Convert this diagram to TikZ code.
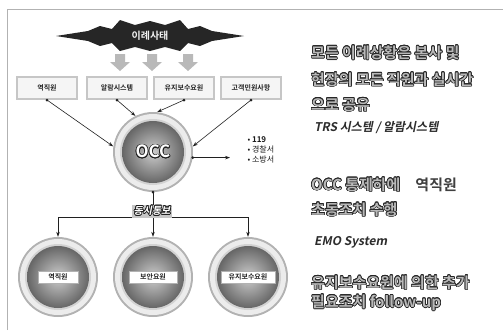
\documentclass[tikz,border=0pt]{standalone}
\usepackage{fontspec}
\setmainfont{Noto Sans CJK KR}[
	BoldFont={Noto Sans CJK KR Bold},
	ItalicFont={Noto Sans CJK KR}, ItalicFeatures={FakeSlant=0.2},
	BoldItalicFont={Noto Sans CJK KR Bold}, BoldItalicFeatures={FakeSlant=0.2}]
\usepackage{contour}
\contourlength{0.7pt}
\usetikzlibrary{arrows.meta}

\tikzset{
	sitbox/.style={draw=gray!45, line width=2pt, fill=gray!8, minimum width=60pt, minimum height=22pt, inner sep=0pt, font=\bfseries\fontsize{7}{8}\selectfont, text=gray!30!black},
	tag/.style={draw=gray!60, fill=white, minimum height=12pt, inner sep=2pt, font=\bfseries\fontsize{7}{8}\selectfont, text=gray!30!black},
	link/.style={-{Stealth[length=5pt,width=3.5pt]}, gray!25!black, line width=0.6pt},
	spot/.style={circle, minimum size=80pt, inner sep=0pt},
	headline/.style={anchor=west, inner sep=0pt, font=\bfseries\fontsize{15}{17}\selectfont, text=gray!55},
	subline/.style={anchor=west, inner sep=0pt, font=\bfseries\itshape\fontsize{12}{14}\selectfont, text=gray!35!black},
}

\begin{document}
\begin{tikzpicture}[x=1pt, y=-1pt]

	\useasboundingbox (0,0) rectangle (503,330);
	\draw[gray!60, line width=1pt] (7,330) -- (7,9) -- (503,9);

	% banner
	\fill[gray!30!black] (56,36) -- (88,31) -- (100,26) -- (112,29) -- (120,20) -- (135,25)
		-- (150,21) -- (165,25) -- (180,20) -- (188,29) -- (200,26) -- (212,31) -- (244,36)
		-- (212,41) -- (200,46) -- (188,43) -- (180,51) -- (165,47) -- (150,51) -- (135,47)
		-- (120,51) -- (112,43) -- (100,46) -- (88,41) -- cycle;
	\node[font=\bfseries\fontsize{10}{11}\selectfont, text=gray!10] (event) at (150,36) {이례사태};

	\foreach \x in {120,152,188}
	{
		\fill[gray!55] (\x-5,54) -- (\x+5,54) -- (\x+5,62) -- (\x+10,62) -- (\x,71) -- (\x-10,62) -- (\x-5,62) -- cycle;
	};

	\node[sitbox] (box1) at (47,88) {역직원};
	\node[sitbox] (box2) at (117,88) {알람시스템};
	\node[sitbox] (box3) at (184,88) {유지보수요원};
	\node[sitbox] (box4) at (251,88) {고객민원사항};

	\node[spot] (occ) at (153,152) {};
	\node[spot] (sub1) at (58,277) {};
	\node[spot] (sub2) at (153,277) {};
	\node[spot] (sub3) at (248,277) {};

	\foreach \n in {occ,sub1,sub2,sub3}
	{
		\fill[gray!60] (\n) circle [radius=40pt];
		\fill[gray!15] (\n) circle [radius=38pt];
		\fill[gray!35] (\n) circle [radius=33pt];
		\shade[inner color=gray!40, outer color=gray!80!black] (\n) circle [radius=31pt];
	};

	\node[font=\bfseries\fontsize{17}{18}\selectfont, text=white] (occname) at (occ) {\contour{gray!25!black}{OCC}};
	\node[tag, minimum width=40pt] (tag1) at (sub1) {역직원};
	\node[tag, minimum width=48pt] (tag2) at (sub2) {보안요원};
	\node[tag, minimum width=54pt] (tag3) at (sub3) {유지보수요원};

	\foreach \i / \a in {1/172, 2/116, 3/84, 4/8}
	{
		\fill[gray!25!black] (box\i.south) circle [radius=1.5pt];
		\draw[link] (box\i.south) -- (occ.\a);
	};

	\node[anchor=west, align=left, font=\fontsize{8}{10}\selectfont, text=gray!20!black] (agency) at (244,150) {• \textbf{119}\\• 경찰서\\• 소방서};
	\coordinate (tip) at (230,158);
	\fill[gray!25!black] (occ.-8) circle [radius=1.5pt];
	\draw[link] (occ.-8) -- (occ.-8 -| tip);

	\coordinate (split) at (153,217);
	\fill[gray!25!black] (occ.south) circle [radius=1.5pt];
	\draw[gray!25!black, line width=0.6pt] (occ.south) -- (split);
	\draw[link] (split) -- (sub2.north);
	\draw[link] (split) -| (sub1.north);
	\draw[link] (split) -| (sub3.north);
	\node[fill=gray!45, inner sep=1.5pt, font=\bfseries\itshape\fontsize{10}{11}\selectfont, text=white] (notice) at (152,211) {\contour{gray!25!black}{동시통보}};

	\node[headline] (msg1) at (311,53) {\contour{gray!30!black}{모든 이례상황은 본사 및}};
	\node[headline] (msg2) at (311,80) {\contour{gray!30!black}{현장의 모든 직원과 실시간}};
	\node[headline] (msg3) at (311,105) {\contour{gray!30!black}{으로 공유}};
	\node[subline] (sys1) at (314,128) {TRS 시스템 / 알람시스템};
	\node[headline] (msg4) at (311,185) {\contour{gray!30!black}{OCC 통제하에}\quad\textcolor{gray!50!black}{역직원}};
	\node[headline] (msg5) at (311,210) {\contour{gray!30!black}{초동조치 수행}};
	\node[subline] (sys2) at (314,242) {EMO System};
	\node[headline] (msg6) at (311,283) {\contour{gray!30!black}{유지보수요원에 의한 추가}};
	\node[headline] (msg7) at (311,303) {\contour{gray!30!black}{필요조치 follow-up}};

\end{tikzpicture}
\end{document}
